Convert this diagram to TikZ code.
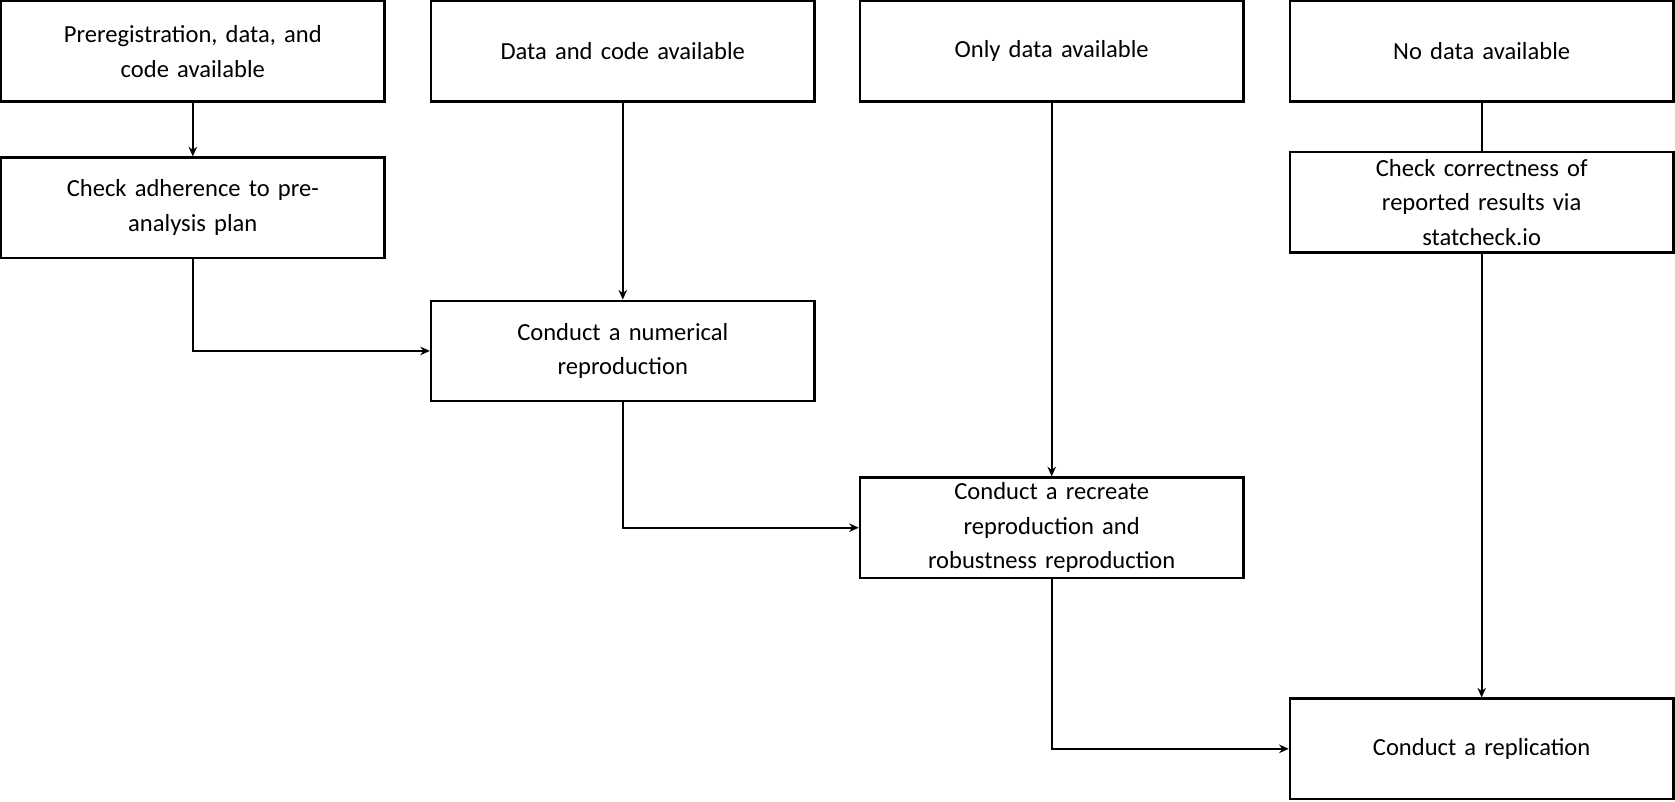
\documentclass[tikz,border=0pt]{standalone}
\usepackage{fontspec}
\setmainfont{Carlito}
\usetikzlibrary{arrows.meta}
\begin{document}
\begin{tikzpicture}[x=1pt,y=-1pt,
  box/.style={draw,line width=2.2pt,minimum width=359pt,minimum height=94pt,align=center,inner sep=0pt,font=\fontsize{23}{32.5}\selectfont,text width=340pt},
  arr/.style={line width=2pt,-{Stealth[length=9pt,width=8pt]}},
  ln/.style={line width=2pt}]
\useasboundingbox (0,0) rectangle (1568,750);
\node[box] (b1) at (180.5,48) {Preregistration, data, and\\code available};
\node[box] (b2) at (583,48) {Data and code available};
\node[box] (b3) at (984.5,48) {Only data available};
\node[box] (b4) at (1387,48) {No data available};
\node[box] (ca) at (180.5,194.5) {Check adherence to pre-\\analysis plan};
\node[box] (cc) at (1387,189.5) {Check correctness of\\reported results via\\statcheck.io};
\node[box] (nr) at (583,328.5) {Conduct a numerical\\reproduction};
\node[box] (rr) at (984.5,494) {Conduct a recreate\\reproduction and\\robustness reproduction};
\node[box] (rp) at (1387,701) {Conduct a replication};
\draw[arr] (b1) -- (ca);
\draw[arr] (ca.south) |- (nr.west);
\draw[arr] (b2) -- (nr);
\draw[arr] (b3) -- (rr);
\draw[arr] (nr.south) |- (rr.west);
\draw[ln] (b4) -- (cc);
\draw[arr] (cc) -- (rp);
\draw[arr] (rr.south) |- (rp.west);
\end{tikzpicture}
\end{document}
